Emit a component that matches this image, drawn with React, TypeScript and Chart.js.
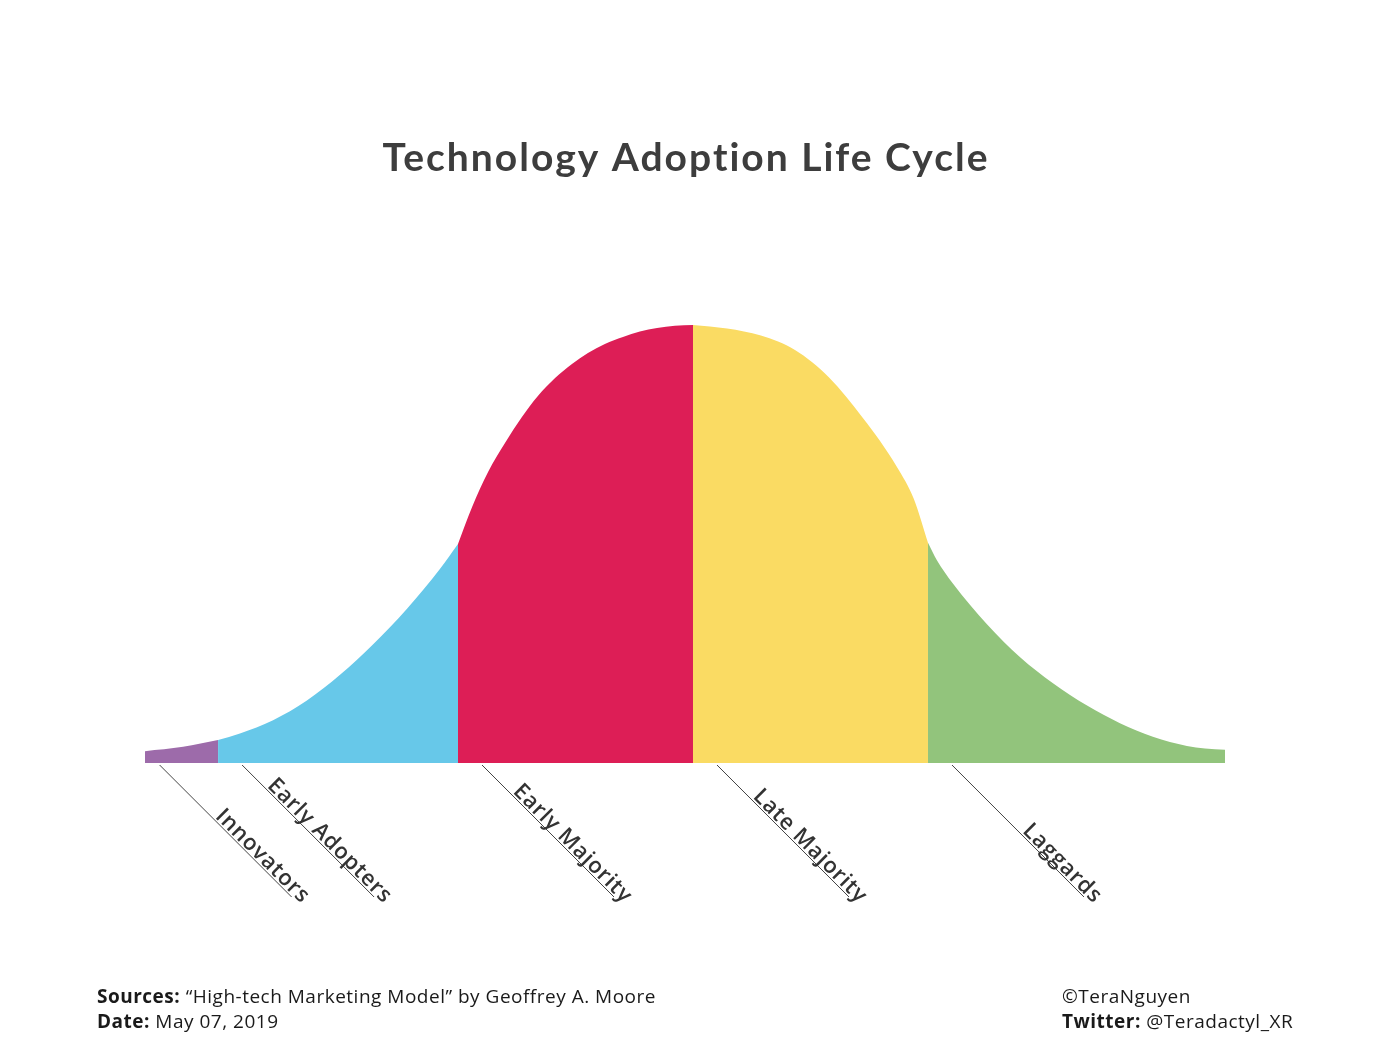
import { useEffect, useRef } from 'react';
import { Chart, registerables } from 'chart.js';

Chart.register(...registerables);

// x in standard deviations from the mean, y in % of peak height
const categories = ['Innovators', 'Early Adopters', 'Early Majority', 'Late Majority', 'Laggards'];
const segmentColors = ['#9D6BAA', '#67C8E9', '#DD1E56', '#FADB63', '#92C47C'];

const innovatorsSigma = [-2.332, -2.17, -2.021];
const innovatorsShare = [2.7, 3.7, 5.25];

const earlyAdoptersSigma = [-2.021, -1.928, -1.787, -1.643, -1.502, -1.362, -1.217, -1.077, -1.0];
const earlyAdoptersShare = [5.25, 6.76, 9.77, 14.27, 20.14, 27.08, 35.23, 44.27, 50.0];

const earlyMajoritySigma = [-1.0, -0.94, -0.872, -0.8, -0.728, -0.66, -0.587, -0.515, -0.447, -0.375, -0.298, -0.226, -0.153, -0.077, 0];
const earlyMajorityShare = [50.0, 58.45, 66.44, 73.06, 79.0, 83.79, 87.9, 91.1, 93.61, 95.66, 97.26, 98.52, 99.32, 99.84, 100];

const lateMajoritySigma = [0, 0.072, 0.145, 0.217, 0.289, 0.362, 0.434, 0.506, 0.579, 0.651, 0.723, 0.796, 0.868, 0.94, 1.0];
const lateMajorityShare = [100, 99.66, 99.2, 98.52, 97.6, 96.23, 94.29, 91.55, 88.01, 83.68, 78.77, 73.52, 67.58, 60.27, 50.3];

const laggardsSigma = [1.0, 1.038, 1.106, 1.251, 1.391, 1.532, 1.677, 1.817, 1.957, 2.102, 2.179, 2.264];
const laggardsShare = [50.3, 46.3, 41.0, 31.7, 24.2, 18.2, 13.1, 9.1, 6.0, 3.9, 3.3, 3.0];

const titleText = 'Technology Adoption Life Cycle';
const sourcesLabel = 'Sources:';
const sourcesText = ' \u201CHigh-tech Marketing Model\u201D by Geoffrey A. Moore';
const dateLabel = 'Date:';
const dateText = ' May 07, 2019';
const creditText = '\u00A9TeraNguyen';
const twitterLabel = 'Twitter:';
const twitterText = ' @Teradactyl_XR';

const segmentSigmas = [innovatorsSigma, earlyAdoptersSigma, earlyMajoritySigma, lateMajoritySigma, laggardsSigma];
const segmentShares = [innovatorsShare, earlyAdoptersShare, earlyMajorityShare, lateMajorityShare, laggardsShare];

const setSpacing = (ctx: any, v: string) => {
  try { ctx.letterSpacing = v; } catch (e) {}
};

const decorPlugin = {
  id: 'adoptionDecor',
  afterDraw(chart: any) {
    const { ctx, scales } = chart;
    const xs = scales.x;
    const ys = scales.y;
    const base = ys.getPixelForValue(0);
    ctx.save();

    // title
    ctx.fillStyle = '#3d3d3d';
    ctx.font = 'bold 39px Lato';
    ctx.textAlign = 'center';
    ctx.textBaseline = 'alphabetic';
    setSpacing(ctx, '2px');
    ctx.fillText(titleText, 686, 171);
    setSpacing(ctx, '0px');

    // category labels with leader lines
    const len = 132;
    segmentSigmas.forEach((sig, i) => {
      const x0 = xs.getPixelForValue(sig[0]);
      const x1 = xs.getPixelForValue(sig[sig.length - 1]);
      const off = Math.min(24, 0.2 * (x1 - x0));
      const sx = x0 + off;
      const sy = base + 2;
      ctx.strokeStyle = '#444';
      ctx.lineWidth = 1;
      ctx.beginPath();
      ctx.moveTo(sx, sy);
      ctx.lineTo(sx + len, sy + len);
      ctx.stroke();
      ctx.save();
      ctx.translate(sx, sy);
      ctx.rotate(Math.PI / 4);
      ctx.fillStyle = '#333';
      ctx.font = '600 22px "Open Sans"';
      setSpacing(ctx, '0.8px');
      ctx.textAlign = 'right';
      ctx.textBaseline = 'alphabetic';
      ctx.fillText(categories[i], len * Math.SQRT2 + 12, -2);
      setSpacing(ctx, '0px');
      ctx.restore();
    });

    // footer
    const drawPair = (bold: string, rest: string, x: number, y: number) => {
      ctx.textAlign = 'left';
      ctx.fillStyle = '#1a1a1a';
      setSpacing(ctx, '0.5px');
      ctx.font = 'bold 19px "Open Sans"';
      ctx.fillText(bold, x, y);
      const w = bold ? ctx.measureText(bold).width : 0;
      ctx.font = '19px "Open Sans"';
      ctx.fillText(rest, x + w, y);
      setSpacing(ctx, '0px');
    };
    drawPair(sourcesLabel, sourcesText, 97, 1003);
    drawPair(dateLabel, dateText, 97, 1028);
    drawPair('', creditText, 1062, 1003);
    drawPair(twitterLabel, twitterText, 1062, 1028);

    ctx.restore();
  },
};

export default function App() {
  const ref = useRef<HTMLCanvasElement | null>(null);
  useEffect(() => {
    if (!ref.current) return;
    const datasets = segmentSigmas.map((sig, i) => ({
      label: categories[i],
      data: sig.map((s, j) => ({ x: s, y: segmentShares[i][j] })),
      backgroundColor: segmentColors[i],
      borderColor: segmentColors[i],
      borderWidth: 0,
      pointRadius: 0,
      fill: 'origin',
      cubicInterpolationMode: 'monotone' as const,
    }));
    const chart = new Chart(ref.current, {
      type: 'line',
      data: { datasets },
      options: {
        animation: false,
        responsive: false,
        layout: { padding: { left: 145, right: 175, top: 325, bottom: 292 } },
        plugins: { legend: { display: false }, tooltip: { enabled: false }, title: { display: false } },
        scales: {
          x: { type: 'linear', min: -2.332, max: 2.264, display: false },
          y: { min: 0, max: 100, display: false },
        },
      },
      plugins: [decorPlugin],
    });
    return () => chart.destroy();
  }, []);
  return (
    <div style={{ position: 'absolute', left: 0, top: 0, width: 1400, height: 1055, background: '#fff' }}>
      <canvas ref={ref} width={1400} height={1055} style={{ width: 1400, height: 1055 }} />
    </div>
  );
}
